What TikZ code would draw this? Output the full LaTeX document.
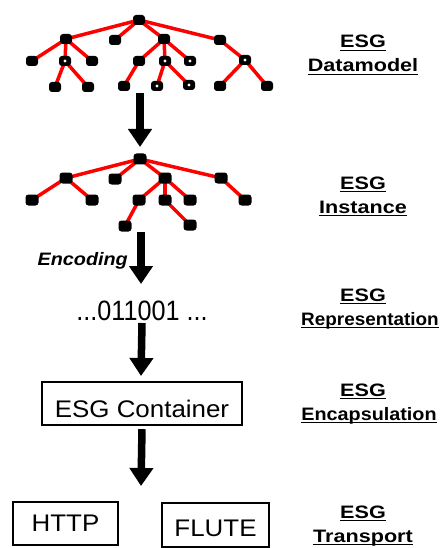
\documentclass[tikz,border=0pt]{standalone}
\usepackage{fontspec}
\setmainfont{Liberation Sans}
\newfontfamily\labfont[FakeStretch=1.2]{Liberation Sans}
\newfontfamily\labfontn[FakeStretch=1.05]{Liberation Sans}
\newfontfamily\labfontm[FakeStretch=1.1]{Liberation Sans}
\newfontfamily\boxfont[FakeStretch=1.08]{Liberation Sans}
\newfontfamily\bitfont[FakeStretch=0.9]{Liberation Sans}
\newfontfamily\encfont[FakeStretch=1.1]{Liberation Sans}
\usetikzlibrary{arrows.meta}
\pgfdeclarelayer{edges}
\pgfsetlayers{edges,main}
\tikzset{
  tnode/.style={fill=black, rounded corners=3pt, minimum width=12pt, minimum height=10pt, inner sep=0pt},
  tnodeb/.style={tnode, minimum width=13pt, minimum height=11pt},
  hollow/.style={tnode, path picture={\fill[white] (path picture bounding box.center) circle (1.6pt);}},
  tedge/.style={red, line width=3.5pt},
  flow/.style={line width=7.5pt, -{Triangle[width=23pt,length=18pt]}},
  lab/.style={font={\labfont\bfseries\fontsize{18pt}{18pt}\selectfont}, inner sep=0pt, anchor=base},
  uline/.style={line width=1.8pt},
  framed/.style={draw, line width=2.4pt, inner sep=0pt, font={\boxfont\fontsize{24pt}{24pt}\selectfont}}
}
% two-line layer name: "ESG" over the layer's word, both underlined
\newcommand{\ulabel}[4]{%
  \node[lab] (#1a) at (363,#2) {ESG};
  \draw[uline] ([yshift=-2.5pt]#1a.base west) -- ([yshift=-2.5pt]#1a.base east);
  \node[lab] (#1b) at (#4,#2+24) {#3};
  \draw[uline] ([yshift=-2.5pt]#1b.base west) -- ([yshift=-2.5pt]#1b.base east);
}
\begin{document}
\begin{tikzpicture}[x=1pt,y=-1pt]
\useasboundingbox (0,0) rectangle (441,548);

% ---- data model tree ----
\node[tnode] (r1) at (139,20) {};
\node[tnode] (a1) at (66,39) {};
\node[tnode] (a2) at (115,40) {};
\node[tnode] (a3) at (164,39) {};
\node[tnode] (a4) at (220,40) {};
\node[tnode] (b1) at (32,61) {};
\node[hollow] (b2) at (65,61) {};
\node[tnode] (b3) at (92,61) {};
\node[tnode] (b4) at (139,61) {};
\node[hollow] (b5) at (165,61) {};
\node[hollow] (b6) at (190,61) {};
\node[hollow] (b7) at (245,60) {};
\node[tnode] (c1) at (55,87) {};
\node[tnode] (c2) at (88,87) {};
\node[tnode] (c3) at (124,86) {};
\node[hollow] (c4) at (157,86) {};
\node[hollow] (c5) at (189,85) {};
\node[tnode] (c6) at (220,86) {};
\node[tnode] (c7) at (267,86) {};
\begin{pgfonlayer}{edges}
  \foreach \p/\c in {r1/a1,r1/a2,r1/a3,r1/a4,a1/b1,a1/b2,a1/b3,b2/c1,b2/c2,
                     a3/b4,a3/b5,a3/b6,b4/c3,b5/c4,b5/c5,a4/b7,b7/c6,b7/c7}
    \draw[tedge] (\p.center) -- (\c.center);
\end{pgfonlayer}

% ---- instance tree ----
\node[tnodeb] (s0) at (140,159) {};
\node[tnodeb] (d1) at (66,178) {};
\node[tnodeb] (d2) at (115,179) {};
\node[tnodeb] (d3) at (165,178) {};
\node[tnodeb] (d4) at (221,178) {};
\node[tnodeb] (e1) at (32,200) {};
\node[tnodeb] (e2) at (92,200) {};
\node[tnodeb] (e3) at (139,200) {};
\node[tnodeb] (e4) at (165,200) {};
\node[tnodeb] (e5) at (190,200) {};
\node[tnodeb] (e6) at (245,200) {};
\node[tnodeb] (f1) at (125,226) {};
\node[tnodeb] (f2) at (190,225) {};
\begin{pgfonlayer}{edges}
  \foreach \p/\c in {s0/d1,s0/d2,s0/d3,s0/d4,d1/e1,d1/e2,d3/e3,d3/e4,d3/e5,
                     e3/f1,e4/f2,d4/e6}
    \draw[tedge] (\p.center) -- (\c.center);
\end{pgfonlayer}

% ---- flow down the stack ----
\node[font={\bitfont\fontsize{28pt}{28pt}\selectfont}, anchor=base, inner sep=0pt] (bits) at (142,320) {...011001 ...};
\node[framed, minimum width=200pt, minimum height=43pt, text height=27pt, text depth=0pt] (cont) at (142,403.5) {ESG Container};
\node[framed, minimum width=105pt, minimum height=43pt, text height=15pt, text depth=0pt] (http) at (65.5,523.5) {HTTP};
\node[framed, minimum width=107pt, minimum height=44pt, text height=22pt, text depth=0pt] (flute) at (215.5,525) {FLUTE};

\coordinate (a1s) at (140,93);
\coordinate (a1e) at (140,147);
\coordinate (a2s) at (141,232);
\coordinate (a2e) at (141,284);
\coordinate (a3e) at (141,376);
\coordinate (a4e) at (141,486);
\draw[flow] (a1s) -- (a1e);
\draw[flow] (a2s) -- (a2e);
\draw[flow] (bits.south |- 0,323) -- (a3e);
\draw[flow] ([yshift=-3pt]cont.south) -- (a4e);

\node[font={\encfont\bfseries\itshape\fontsize{18pt}{18pt}\selectfont}, anchor=base east, inner sep=0pt] (enc) at (128,265) {Encoding};

% ---- layer names ----
\ulabel{dm}{48}{Datamodel}{363}
\ulabel{in}{189}{Instance}{363}
\ulabel{re}{301}{\labfontn Representation}{370}
\ulabel{ec}{396}{\labfontm Encapsulation}{369}
\ulabel{tr}{518}{Transport}{363}
\end{tikzpicture}
\end{document}
